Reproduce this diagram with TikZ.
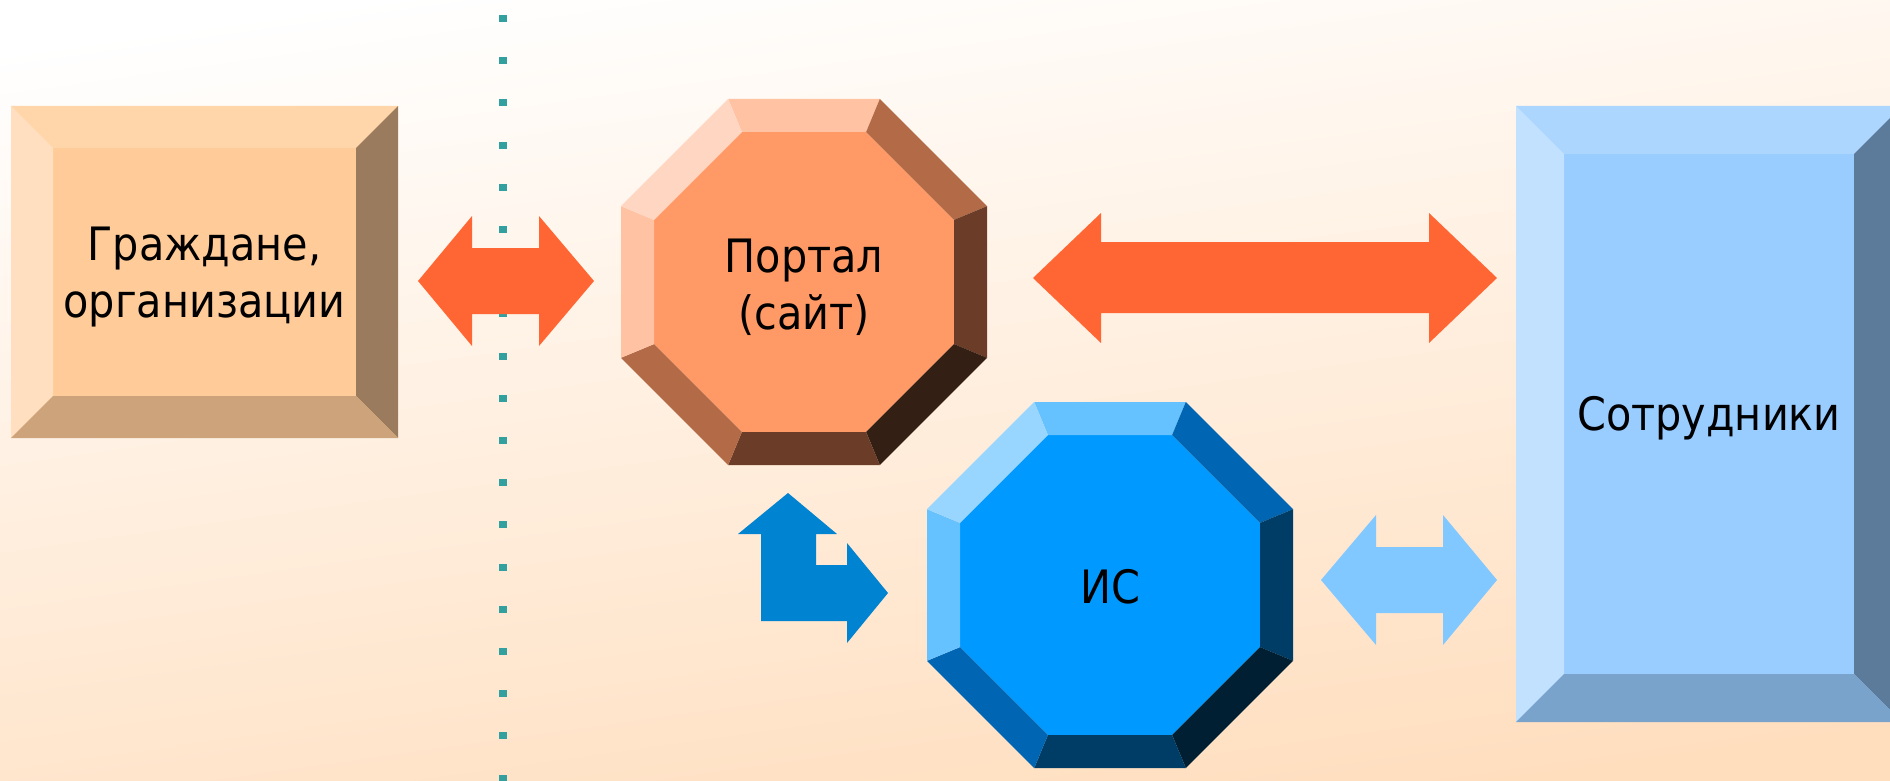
\documentclass[tikz,border=0pt]{standalone}
\usepackage{fontspec}
\setmainfont{DejaVu Sans}[FakeStretch=0.9]
\definecolor{bgpeach}{RGB}{255,222,190}
\definecolor{arrorange}{HTML}{FF6633}
\definecolor{arrlblue}{HTML}{80C8FF}
\definecolor{arrblue}{HTML}{0083D0}
\definecolor{dotteal}{HTML}{33A0A0}
\tikzset{
  lbl/.style={align=center, text=black, inner sep=0pt, font=\fontsize{46}{57}\selectfont},
}
% beveled rectangle: #1,#2 outer corner (top-left), #3,#4 outer corner (bottom-right), #5 bevel
\newcommand\bevrect[5]{%
  \fill[fcenter] (#1,#2) rectangle (#3,#4);
  \fill[ftop] (#1,#2) -- (#3,#2) -- (#3-#5,#2+#5) -- (#1+#5,#2+#5) -- cycle;
  \fill[fleft] (#1,#2) -- (#1+#5,#2+#5) -- (#1+#5,#4-#5) -- (#1,#4) -- cycle;
  \fill[fright] (#3,#2) -- (#3-#5,#2+#5) -- (#3-#5,#4-#5) -- (#3,#4) -- cycle;
  \fill[fbottom] (#1,#4) -- (#1+#5,#4-#5) -- (#3-#5,#4-#5) -- (#3,#4) -- cycle;
}
% beveled octagon centred at #1
\newcommand\bevocta[1]{%
  \begin{scope}[shift={#1}]
    \fill[fcenter] (-62.1,-150) -- (62.1,-150) -- (150,-62.1) -- (150,62.1) -- (62.1,150) -- (-62.1,150) -- (-150,62.1) -- (-150,-62.1) -- cycle;
    \fill[ftop]    (-75.8,-183) -- (75.8,-183) -- (62.1,-150) -- (-62.1,-150) -- cycle;
    \fill[fne]     (75.8,-183) -- (183,-75.8) -- (150,-62.1) -- (62.1,-150) -- cycle;
    \fill[fright]  (183,-75.8) -- (183,75.8) -- (150,62.1) -- (150,-62.1) -- cycle;
    \fill[fse]     (183,75.8) -- (75.8,183) -- (62.1,150) -- (150,62.1) -- cycle;
    \fill[fbottom] (75.8,183) -- (-75.8,183) -- (-62.1,150) -- (62.1,150) -- cycle;
    \fill[fsw]     (-75.8,183) -- (-183,75.8) -- (-150,62.1) -- (-62.1,150) -- cycle;
    \fill[fleft]   (-183,75.8) -- (-183,-75.8) -- (-150,-62.1) -- (-150,62.1) -- cycle;
    \fill[fnw]     (-183,-75.8) -- (-75.8,-183) -- (-62.1,-150) -- (-150,-62.1) -- cycle;
  \end{scope}
}
\begin{document}
\begin{tikzpicture}[x=1pt,y=-1pt]
\useasboundingbox (0,0) rectangle (1890,781);
\shade[top color=white, bottom color=bgpeach, shading angle=8] (-10,-10) rectangle (1900,791);

% dotted boundary
\foreach \i in {0,...,18}
  \fill[dotteal] (499,{15+42.2*\i}) rectangle ++(8,7);

% citizens box
\begin{scope}
  \definecolor{fcenter}{HTML}{FFCC99}
  \definecolor{ftop}{HTML}{FFD6AA}
  \definecolor{fleft}{HTML}{FFDFC0}
  \definecolor{fright}{HTML}{9B7B5D}
  \definecolor{fbottom}{HTML}{CCA37B}
  \bevrect{11}{106}{398}{438}{42}
\end{scope}
\node[lbl] (citizens) at (204.5,277) {Граждане,\\организации};

% staff box
\begin{scope}
  \definecolor{fcenter}{HTML}{99CCFF}
  \definecolor{ftop}{HTML}{ADD6FF}
  \definecolor{fleft}{HTML}{C2E1FF}
  \definecolor{fright}{HTML}{5C7A99}
  \definecolor{fbottom}{HTML}{7AA3CC}
  \bevrect{1516}{106}{1902}{722}{48}
\end{scope}
\node[lbl] (staff) at (1709,418) {Сотрудники};

% portal octagon
\begin{scope}
  \definecolor{fcenter}{HTML}{FF9966}
  \definecolor{ftop}{HTML}{FFC2A3}
  \definecolor{fnw}{HTML}{FFD6C2}
  \definecolor{fleft}{HTML}{FFC2A3}
  \definecolor{fsw}{HTML}{B36B47}
  \definecolor{fbottom}{HTML}{6B3D29}
  \definecolor{fse}{HTML}{331F14}
  \definecolor{fright}{HTML}{6B3D29}
  \definecolor{fne}{HTML}{B36B47}
  \bevocta{(804,282)}
\end{scope}
\node[lbl] (portal) at (804,287) {Портал\\(сайт)};

% IS octagon
\begin{scope}
  \definecolor{fcenter}{HTML}{0099FF}
  \definecolor{ftop}{HTML}{66C2FF}
  \definecolor{fnw}{HTML}{99D6FF}
  \definecolor{fleft}{HTML}{66C2FF}
  \definecolor{fsw}{HTML}{0066B3}
  \definecolor{fbottom}{HTML}{003D66}
  \definecolor{fse}{HTML}{001F33}
  \definecolor{fright}{HTML}{003D66}
  \definecolor{fne}{HTML}{0066B3}
  \bevocta{(1110,585)}
\end{scope}
\node[lbl] (is) at (1110,587) {ИС};

% double arrow citizens <-> portal
\fill[arrorange] (418,281) -- (472,216) -- (472,248) -- (539,248) -- (539,216) -- (594,281)
  -- (539,346) -- (539,314) -- (472,314) -- (472,346) -- cycle;
% double arrow portal <-> staff
\fill[arrorange] (1033,278) -- (1101,213) -- (1101,242) -- (1429,242) -- (1429,213) -- (1497,278)
  -- (1429,343) -- (1429,313) -- (1101,313) -- (1101,343) -- cycle;
% double arrow IS <-> staff
\fill[arrlblue] (1321,580) -- (1376,515) -- (1376,547) -- (1443,547) -- (1443,515) -- (1497,580)
  -- (1443,645) -- (1443,613) -- (1376,613) -- (1376,645) -- cycle;
% bent arrow portal / IS
\fill[arrblue] (788,493) -- (837,534) -- (816,534) -- (816,565) -- (847,565) -- (847,543) -- (888,593)
  -- (847,643) -- (847,621) -- (761,621) -- (761,534) -- (738,534) -- cycle;
\end{tikzpicture}
\end{document}
